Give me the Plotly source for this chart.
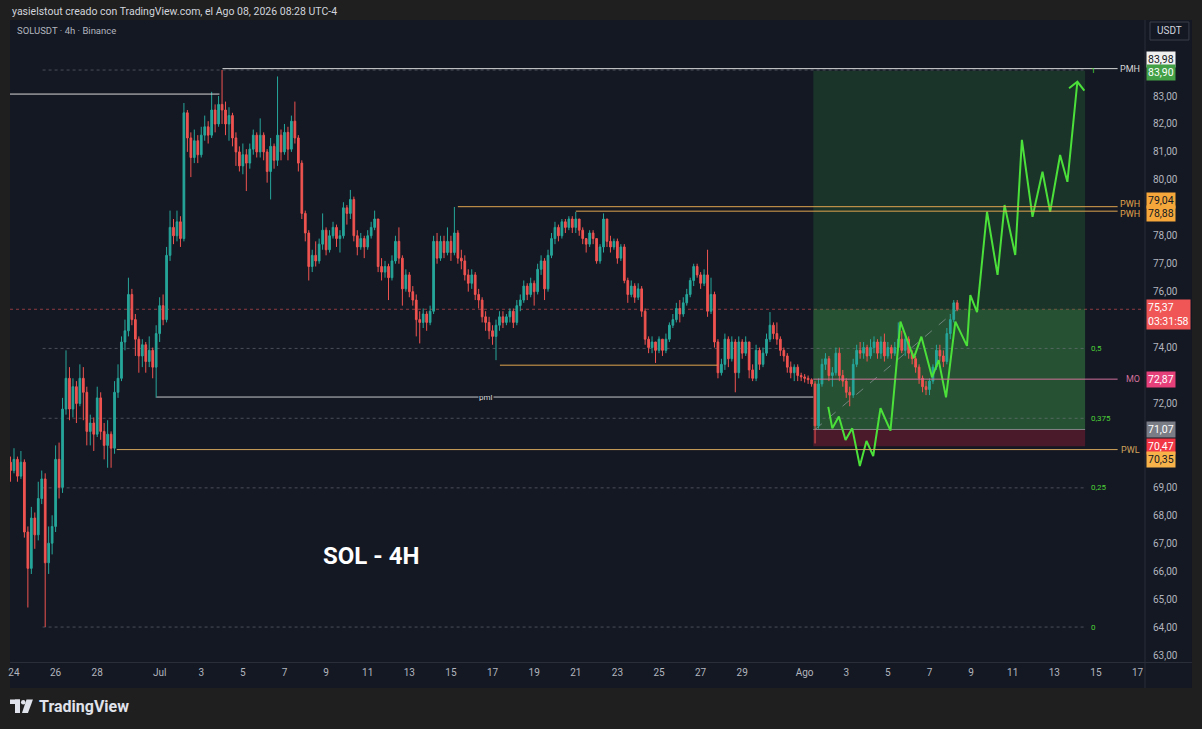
import plotly.graph_objects as go
import pandas as pd

# ---------------- data ----------------
start_time = "2026-06-23 20:00"
bar_freq = "4h"
first_open = 69.9
closes = [69.6,70.0,69.4,69.9,67.4,66.1,67.9,67.3,68.6,69.3,
          66.3,67.0,67.6,70.0,69.0,71.8,72.9,71.8,72.6,72.0,
          72.9,72.4,71.0,71.3,70.9,72.2,71.0,70.5,70.9,70.4,
          72.4,72.9,74.2,74.6,75.9,75.0,74.3,73.7,74.1,73.5,
          73.9,73.3,74.5,75.5,75.0,77.3,78.3,78.0,78.5,77.9,
          82.4,81.5,80.8,81.4,80.9,81.6,81.9,81.6,82.5,82.0,
          82.7,82.5,82.0,82.3,81.5,81.0,80.5,80.9,80.6,81.1,
          81.6,81.0,81.6,81.0,80.3,81.2,80.7,81.6,81.0,81.7,
          81.1,82.1,81.5,80.6,78.8,78.1,76.9,77.3,77.1,77.7,
          78.2,77.5,78.0,78.3,77.9,78.0,79.0,78.8,79.3,78.0,
          77.6,77.9,77.6,78.0,78.3,78.6,76.9,76.7,76.9,76.5,
          77.1,77.8,77.2,76.1,76.6,76.0,75.7,75.0,74.9,75.2,
          74.9,75.3,77.8,77.2,77.8,77.4,77.8,77.4,78.1,77.2,
          77.1,76.6,76.3,76.6,75.9,75.7,75.1,74.9,74.6,74.4,
          74.8,75.1,74.9,75.1,75.3,74.9,75.5,75.7,76.2,75.9,
          76.3,76.0,76.8,77.1,76.1,77.3,77.9,78.3,78.0,78.5,
          78.3,78.6,78.3,78.6,78.2,77.9,77.7,78.1,77.9,77.1,
          77.6,78.6,77.8,77.6,77.8,77.2,77.6,76.4,75.9,76.2,
          75.8,76.1,75.3,74.3,74.0,74.2,73.9,74.3,73.9,74.3,
          74.8,75.0,75.4,75.2,75.6,75.9,76.4,76.9,76.6,76.3,
          76.6,75.3,75.9,74.2,73.1,73.4,74.3,73.6,74.2,73.1,
          74.2,73.8,74.2,73.2,72.9,73.9,73.4,73.8,74.3,74.8,
          74.5,74.3,73.9,73.7,73.3,73.1,73.3,73.0,72.95,72.9,
          72.85,72.7,71.2,72.7,73.4,73.6,73.0,73.1,73.8,73.0,
          72.8,72.4,72.3,73.4,73.9,73.8,74.0,73.7,74.0,74.2,
          73.8,74.2,73.7,74.0,73.8,74.0,74.3,73.9,74.3,73.8,
          73.6,73.3,72.9,72.6,72.5,72.8,73.3,73.9,73.7,73.5,
          74.5,75.0,75.6,75.37]
highs = [70.1,70.4,70.1,70.3,70.0,67.6,68.3,68.1,69.2,69.6,
         69.5,67.6,68.0,70.5,70.6,72.2,73.9,73.3,72.9,72.8,
         73.4,73.3,72.6,71.6,71.5,72.6,72.4,71.3,71.4,71.0,
         72.8,73.4,74.4,75.0,76.5,76.1,75.2,74.4,74.3,74.2,
         74.4,74.0,74.8,75.8,75.9,77.6,78.9,78.6,78.9,78.7,
         82.75,82.5,81.7,81.8,81.6,81.9,82.3,82.1,83.15,82.7,
         83.0,83.93,82.8,82.6,82.4,81.7,81.2,81.3,81.1,81.3,
         81.8,81.7,82.2,81.7,81.1,81.5,81.3,83.7,81.8,82.0,
         81.9,82.3,82.8,81.6,80.7,78.9,78.2,77.5,77.8,77.9,
         78.8,78.3,78.2,78.5,78.4,78.2,79.2,79.1,79.64,79.4,
         78.2,78.1,78.0,78.2,78.5,78.9,78.5,77.2,77.1,77.0,
         77.3,78.0,78.3,77.3,76.8,76.7,76.2,75.9,75.3,75.4,
         75.3,75.5,78.0,78.1,78.0,78.0,78.3,78.0,79.03,78.2,
         77.5,77.3,76.8,76.8,76.7,76.1,75.8,75.3,75.1,74.8,
         75.0,75.3,75.3,75.2,75.4,75.4,75.7,75.9,76.4,76.3,
         76.5,76.4,77.0,77.3,77.2,77.5,78.1,78.5,78.4,78.6,
         78.6,78.7,78.7,78.85,78.6,78.3,77.9,78.2,78.2,77.9,
         77.7,78.8,78.6,78.0,77.9,77.9,77.7,77.7,76.5,76.4,
         76.3,76.3,76.2,75.4,74.4,74.4,74.2,74.4,74.3,74.5,
         74.9,75.2,75.6,75.7,75.8,76.1,76.5,77.0,77.0,76.7,
         76.8,77.5,76.5,76.0,74.3,73.6,74.5,74.4,74.4,74.3,
         74.4,74.3,74.4,74.2,73.4,74.1,74.0,74.0,74.5,75.27,
         74.9,74.9,74.4,74.0,73.8,73.5,73.4,73.4,73.1,73.05,
         73.0,72.9,72.8,72.9,73.6,73.8,73.7,73.3,74.0,74.0,
         73.2,72.9,72.6,73.6,74.1,74.2,74.2,74.1,74.3,74.4,
         74.3,74.4,74.5,74.2,74.1,74.2,74.9,74.6,74.5,74.4,
         73.9,73.7,73.4,73.0,72.8,72.9,73.4,74.1,74.1,73.9,
         74.7,75.2,75.7,75.7]
lows = [69.2,69.5,69.2,69.3,67.2,64.7,65.9,66.8,67.1,68.4,
        64.0,65.9,66.6,67.4,68.6,68.8,71.6,71.4,71.5,71.3,
        71.9,71.4,70.5,70.5,70.3,70.8,70.7,70.0,69.7,69.7,
        70.2,72.2,72.8,73.9,74.4,74.8,73.7,73.1,73.3,73.1,
        73.3,72.9,72.2,74.2,74.8,74.9,77.1,77.7,77.8,77.6,
        77.8,81.0,80.1,80.6,80.6,80.8,81.4,81.3,81.5,81.7,
        81.9,82.0,81.6,81.4,81.2,80.5,80.3,80.2,79.6,80.4,
        80.9,80.8,80.8,80.7,79.9,79.3,80.4,80.5,80.7,80.9,
        80.7,81.0,81.3,80.3,78.6,77.8,76.4,76.7,76.9,77.0,
        77.5,77.3,77.4,77.9,77.6,77.4,77.9,78.4,78.6,77.8,
        77.3,77.5,77.2,77.5,77.9,78.2,76.7,76.4,76.5,75.7,
        76.4,77.0,77.0,75.5,76.0,75.8,75.5,74.4,74.15,74.7,
        74.6,74.8,75.2,77.0,77.1,77.2,77.3,77.1,77.3,77.0,
        76.8,76.4,76.0,76.1,75.7,75.4,74.9,74.6,74.3,74.1,
        73.55,74.6,74.7,74.8,74.9,74.7,74.8,75.3,75.6,75.7,
        75.8,75.5,75.9,76.6,75.7,76.0,77.2,77.7,77.8,77.9,
        78.1,78.2,78.1,78.1,78.0,77.7,77.4,77.6,77.7,77.0,
        77.0,77.4,77.6,77.4,77.5,77.0,77.1,76.3,75.6,75.8,
        75.6,75.7,75.1,74.1,73.8,73.8,73.45,73.8,73.7,73.8,
        74.2,74.7,74.9,74.9,75.1,75.5,75.8,76.2,76.5,76.1,
        76.2,75.1,75.2,74.0,72.9,73.0,73.2,73.3,73.5,72.4,
        72.9,73.6,73.7,72.9,72.8,72.8,73.2,73.3,73.7,74.2,
        74.3,74.1,73.7,73.5,73.1,72.9,72.8,72.8,72.8,72.75,
        72.7,72.6,70.57,71.1,72.6,73.2,72.8,72.6,73.0,72.8,
        72.6,72.2,71.9,72.2,73.3,73.6,73.6,73.5,73.6,73.8,
        73.6,73.6,73.5,73.6,73.6,73.7,73.9,73.8,73.7,73.6,
        73.4,73.1,72.7,72.4,72.3,72.3,72.7,73.2,73.5,73.3,
        73.4,74.3,74.9,75.3]

# x-axis tick labels
x_tick_dates = ["2026-06-24","2026-06-26","2026-06-28","2026-07-01","2026-07-03","2026-07-05",
                "2026-07-07","2026-07-09","2026-07-11","2026-07-13","2026-07-15","2026-07-17",
                "2026-07-19","2026-07-21","2026-07-23","2026-07-25","2026-07-27","2026-07-29",
                "2026-08-01","2026-08-03","2026-08-05","2026-08-07","2026-08-09","2026-08-11",
                "2026-08-13","2026-08-15","2026-08-17"]
x_tick_text = ["24","26","28","Jul","3","5","7","9","11","13","15","17","19","21","23","25",
               "27","29","Ago","3","5","7","9","11","13","15","17"]
# price ticks that are not hidden behind the coloured price labels
y_tick_vals = [63,64,65,66,67,68,69,72,74,76,77,78,80,81,82,83]
y_tick_text = ["63,00","64,00","65,00","66,00","67,00","68,00","69,00","72,00","74,00",
               "76,00","77,00","78,00","80,00","81,00","82,00","83,00"]

# key horizontal levels (line labelled at the right)
level_names = ["PMH", "PWH", "PWH", "MO", "PWL"]
level_prices = [83.98, 79.04, 78.88, 72.87, 70.35]
level_label_shift = [0, 3, -3, 0, 0]
level_starts = ["2026-07-04 00:30", "2026-07-15 08:00", "2026-07-21 00:00",
                "2026-08-01 10:00", "2026-06-28 22:30"]
level_end = "2026-08-16 01:00"
level_colors = ["#d6d6d6", "#e0a54e", "#e0a54e", "#d0709a", "#d1a45c"]

# other drawn lines
prev_high_price = 83.07
prev_high_span = ["2026-06-23 12:00", "2026-07-03 21:00"]
pml_price = 72.23
pml_span = ["2026-06-30 20:30", "2026-08-01 10:00"]
pml_label_time = "2026-07-16 16:20"
range_low_price = 73.37
range_low_span = ["2026-07-17 08:30", "2026-07-27 19:30"]

# fibonacci levels
fib_labels = ["1", "0,5", "0,375", "0,25", "0"]
fib_prices = [83.93, 73.97, 71.47, 68.98, 64.0]
fib_span = ["2026-06-25 09:00", "2026-08-14 11:30"]

# long position tool
pos_span = ["2026-08-01 10:00", "2026-08-14 11:30"]
pos_target = 83.90
pos_entry = 71.07
pos_stop = 70.47
pos_reached = 75.37
last_price = 75.37
entry_time = "2026-08-01 12:00"
last_time = "2026-08-08 08:00"

# projected path
proj_times = ["2026-08-02 03:15","2026-08-02 07:55","2026-08-02 15:30","2026-08-02 23:10",
              "2026-08-03 06:55","2026-08-03 15:40","2026-08-03 23:20","2026-08-04 07:05",
              "2026-08-04 15:30","2026-08-05 03:00","2026-08-05 14:30","2026-08-06 05:50",
              "2026-08-06 14:40","2026-08-07 03:00","2026-08-07 10:35","2026-08-07 19:05",
              "2026-08-08 05:50","2026-08-08 19:15","2026-08-08 23:05","2026-08-09 06:50",
              "2026-08-09 18:20","2026-08-10 06:30","2026-08-10 14:35","2026-08-11 02:55",
              "2026-08-11 10:35","2026-08-11 22:50","2026-08-12 10:20","2026-08-12 19:10",
              "2026-08-13 06:40","2026-08-13 15:05","2026-08-14 02:35"]
proj_prices = [71.88,71.11,71.53,70.69,71.11,69.76,70.66,70.12,71.83,71.03,74.93,73.62,
               74.39,72.94,73.55,72.22,74.93,74.06,75.88,75.27,78.86,76.60,79.10,77.31,
               81.43,78.68,80.29,78.86,80.89,79.93,83.51]
arrow_times = ["2026-08-13 17:00", "2026-08-14 02:35", "2026-08-14 10:40"]
arrow_prices = [83.28, 83.51, 83.19]

# price-scale labels
axis_label_text = ["83,98", "83,90", "79,04", "78,88", "75,37<br>03:31:58", "72,87", "71,07", "70,47", "70,35"]
axis_label_price = [83.98, 83.90, 79.04, 78.88, 75.37, 72.87, 71.07, 70.47, 70.35]
axis_label_shift = [9.6, -1.5, 6.5, -2.5, -5, 0, 0, 0, -10]
axis_label_bg = ["#f0f0f0", "#43a047", "#f5a73b", "#f5a73b", "#f05656", "#e5407a", "#7a7d86", "#f23645", "#f7b34a"]
axis_label_fg = ["#131722", "#ffffff", "#131722", "#131722", "#ffffff", "#ffffff", "#ffffff", "#ffffff", "#131722"]

# ---------------- figure ----------------
BG = "#141823"
OUTER = "#1f1f1f"
FONT = "Roboto"
W, H = 1202, 729
ML, MR, MT, MB = 8, 58, 20, 67
PW, PH = W - ML - MR, H - MT - MB


def px(x):
    return (x - ML) / PW


def py(y):
    return (H - MB - y) / PH


times = pd.date_range(start_time, periods=len(closes), freq=bar_freq)
opens = [first_open] + closes[:-1]
highs_c = [max(h, o, c) for h, o, c in zip(highs, opens, closes)]
lows_c = [min(l, o, c) for l, o, c in zip(lows, opens, closes)]

fig = go.Figure()

shapes = []
annotations = []

# chart pane background
shapes.append(dict(type="rect", xref="paper", yref="paper", x0=px(8), x1=px(1192), y0=py(688), y1=py(20),
                   fillcolor=BG, line=dict(width=0), layer="below"))

# position tool zones
shapes.append(dict(type="rect", xref="x", yref="y", x0=pos_span[0], x1=pos_span[1], y0=pos_reached, y1=pos_target,
                   fillcolor="rgba(46,125,60,0.28)", line=dict(width=0), layer="below"))
shapes.append(dict(type="rect", xref="x", yref="y", x0=pos_span[0], x1=pos_span[1], y0=pos_entry, y1=pos_reached,
                   fillcolor="rgba(60,150,70,0.45)", line=dict(width=0), layer="below"))
shapes.append(dict(type="rect", xref="x", yref="y", x0=pos_span[0], x1=pos_span[1], y0=pos_stop, y1=pos_entry,
                   fillcolor="rgba(120,30,50,0.55)", line=dict(width=0), layer="below"))
shapes.append(dict(type="line", xref="x", yref="y", x0=pos_span[0], x1=pos_span[1], y0=pos_entry, y1=pos_entry,
                   line=dict(color="rgba(170,170,175,0.7)", width=1), layer="below"))
shapes.append(dict(type="line", xref="x", yref="y", x0=entry_time, x1=last_time, y0=pos_entry, y1=last_price,
                   line=dict(color="rgba(160,165,175,0.6)", width=1, dash="dash"), layer="below"))

# fib dotted lines
for lab, p in zip(fib_labels, fib_prices):
    shapes.append(dict(type="line", xref="x", yref="y", x0=fib_span[0], x1=fib_span[1], y0=p, y1=p,
                       line=dict(color="rgba(120,124,134,0.55)", width=1, dash="dot"), layer="below"))
    annotations.append(dict(xref="paper", yref="y", x=px(1089), y=p, text=lab, showarrow=False,
                            xanchor="left", yanchor="middle", font=dict(family=FONT, size=8, color="#4cd137")))

# last price dotted line
shapes.append(dict(type="line", xref="paper", yref="y", x0=0, x1=1, y0=last_price, y1=last_price,
                   line=dict(color="rgba(240,86,86,0.55)", width=1, dash="dot"), layer="below"))

# other lines
shapes.append(dict(type="line", xref="x", yref="y", x0=prev_high_span[0], x1=prev_high_span[1],
                   y0=prev_high_price, y1=prev_high_price, line=dict(color="#d8d8d8", width=1)))
shapes.append(dict(type="line", xref="x", yref="y", x0=pml_span[0], x1=pml_span[1],
                   y0=pml_price, y1=pml_price, line=dict(color="#c8c8cc", width=1)))
annotations.append(dict(xref="x", yref="y", x=pml_label_time, y=pml_price, text="pml", showarrow=False,
                        font=dict(family=FONT, size=8, color="#d8d8d8"), bgcolor=BG, borderpad=0))
shapes.append(dict(type="line", xref="x", yref="y", x0=range_low_span[0], x1=range_low_span[1],
                   y0=range_low_price, y1=range_low_price, line=dict(color="#e0a54e", width=1)))

for name, p, sh, s, col in zip(level_names, level_prices, level_label_shift, level_starts, level_colors):
    shapes.append(dict(type="line", xref="x", yref="y", x0=s, x1=level_end, y0=p, y1=p,
                       line=dict(color=col, width=1)))
    annotations.append(dict(xref="paper", yref="y", x=px(1142), y=p, yshift=sh, text=name, showarrow=False,
                            xanchor="right", yanchor="middle", font=dict(family=FONT, size=9, color=col)))

# candles
fig.add_trace(go.Candlestick(
    x=times, open=opens, high=highs_c, low=lows_c, close=closes,
    increasing=dict(line=dict(color="#26a69a", width=1), fillcolor="#26a69a"),
    decreasing=dict(line=dict(color="#ef5350", width=1), fillcolor="#ef5350"),
    whiskerwidth=0, showlegend=False, hoverinfo="skip"))

# projection path
fig.add_trace(go.Scatter(x=proj_times, y=proj_prices, mode="lines",
                         line=dict(color="#4be03a", width=2), showlegend=False, hoverinfo="skip"))
fig.add_trace(go.Scatter(x=arrow_times, y=arrow_prices, mode="lines",
                         line=dict(color="#4be03a", width=2), showlegend=False, hoverinfo="skip"))

# axis separators
shapes.append(dict(type="line", xref="paper", yref="paper", x0=px(1145), x1=px(1145), y0=py(688), y1=py(20),
                   line=dict(color="#2a2e39", width=1)))
shapes.append(dict(type="line", xref="paper", yref="paper", x0=px(8), x1=px(1192), y0=py(662.5), y1=py(662.5),
                   line=dict(color="#2a2e39", width=1)))

# price axis labels
for t, p, sh, bg, fg in zip(axis_label_text, axis_label_price, axis_label_shift, axis_label_bg, axis_label_fg):
    annotations.append(dict(xref="paper", yref="y", x=px(1146), y=p, yshift=sh, text=t, showarrow=False,
                            xanchor="left", yanchor="middle", align="left", bgcolor=bg, borderpad=1,
                            font=dict(family=FONT, size=10.5, color=fg)))

# USDT box
shapes.append(dict(type="rect", xref="paper", yref="paper", x0=px(1150), x1=px(1189), y0=py(40), y1=py(22),
                   fillcolor=BG, line=dict(color="#3a3e4a", width=1)))
annotations.append(dict(xref="paper", yref="paper", x=px(1169.5), y=py(31), text="USDT", showarrow=False,
                        xanchor="center", yanchor="middle",
                        font=dict(family=FONT, size=10, color="#d1d4dc")))

# header texts
annotations.append(dict(xref="paper", yref="paper", x=px(8), y=py(11), text="yasielstout creado con TradingView.com, el Ago 08, 2026 08:28 UTC-4",
                        showarrow=False, xanchor="left", yanchor="middle", font=dict(family=FONT, size=10.5, color="#d1d4dc")))
annotations.append(dict(xref="paper", yref="paper", x=px(13), y=py(31), text="SOLUSDT · 4h · Binance",
                        showarrow=False, xanchor="left", yanchor="middle", font=dict(family=FONT, size=9.5, color="#b2b5be")))

# big title
annotations.append(dict(xref="paper", yref="paper", x=px(370), y=py(556), text="<b>SOL - 4H</b>",
                        showarrow=False, xanchor="center", yanchor="middle", font=dict(family=FONT, size=24, color="#ffffff")))

# TradingView logo
logo_col = "#e0e3eb"
shapes.append(dict(type="rect", xref="paper", yref="paper", x0=px(8), x1=px(18), y0=py(704), y1=py(699.5),
                   fillcolor=logo_col, line=dict(width=0)))
shapes.append(dict(type="rect", xref="paper", yref="paper", x0=px(13), x1=px(18), y0=py(713), y1=py(699.5),
                   fillcolor=logo_col, line=dict(width=0)))
shapes.append(dict(type="circle", xref="paper", yref="paper", x0=px(19), x1=px(23.5), y0=py(704.5), y1=py(700),
                   fillcolor=logo_col, line=dict(width=0)))
shapes.append(dict(type="path", xref="paper", yref="paper",
                   path=f"M {px(24.5)} {py(699.5)} L {px(31)} {py(699.5)} L {px(26)} {py(713)} L {px(20)} {py(713)} Z",
                   fillcolor=logo_col, line=dict(width=0)))
annotations.append(dict(xref="paper", yref="paper", x=px(35), y=py(706), text="<b>TradingView</b>", showarrow=False,
                        xanchor="left", yanchor="middle", font=dict(family=FONT, size=16, color=logo_col)))

fig.update_layout(
    width=W, height=H,
    margin=dict(l=ML, r=MR, t=MT, b=MB),
    paper_bgcolor=OUTER, plot_bgcolor=BG,
    shapes=shapes, annotations=annotations,
    showlegend=False,
    modebar=dict(bgcolor="rgba(0,0,0,0)", color="rgba(0,0,0,0)", activecolor="rgba(0,0,0,0)"),
    xaxis=dict(range=["2026-06-23 19:24", "2026-08-17 07:26"], type="date",
               rangeslider=dict(visible=False), showgrid=False, zeroline=False,
               tickvals=x_tick_dates, ticktext=x_tick_text, ticks="", ticklabelstandoff=3,
               tickfont=dict(family=FONT, size=10, color="#b2b5be"), showline=False, fixedrange=True),
    yaxis=dict(range=[62.75, 85.72], side="right", showgrid=False, zeroline=False,
               tickvals=y_tick_vals, ticktext=y_tick_text, ticks="", ticklabelstandoff=8,
               tickfont=dict(family=FONT, size=10, color="#b2b5be"), showline=False, fixedrange=True),
)

fig.write_html("out.html", config={"displayModeBar": False},
               post_script="document.body.style.margin='0px';document.body.style.background='#1f1f1f';document.body.style.overflow='hidden';")
